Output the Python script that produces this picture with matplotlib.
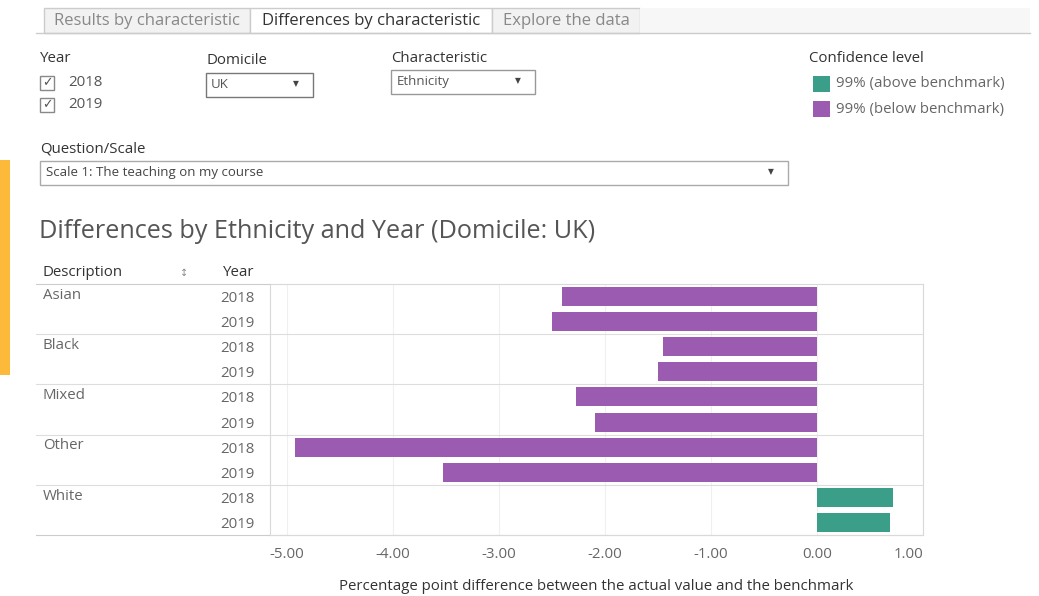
import matplotlib.pyplot as plt
import matplotlib.patches as mpatches
from matplotlib.transforms import blended_transform_factory

plt.rcParams['font.family'] = ['Open Sans', 'DejaVu Sans']

# data
groups = ['Asian', 'Black', 'Mixed', 'Other', 'White']
years = ['2018', '2019']
diff = [-2.41, -2.50,
        -1.45, -1.50,
        -2.27, -2.09,
        -4.92, -3.53,
        0.72, 0.69]
above = [False, False, False, False, False, False, False, False, True, True]
ticks = [-5, -4, -3, -2, -1, 0, 1]

purple = '#9b5bb0'
teal = '#3a9e89'
grey_txt = '#666666'
dark_txt = '#333333'
fs = 10.8

W, H = 1039, 596
fig = plt.figure(figsize=(W / 100, H / 100), dpi=100)


def fx(x):
    return x / W


def fy(y):
    return 1 - y / H


def box(x0, y0, x1, y1, fc='white', ec='#999999', lw=1):
    r = mpatches.Rectangle((fx(x0), fy(y1)), fx(x1) - fx(x0), fy(y0) - fy(y1),
                           transform=fig.transFigure, fc=fc, ec=ec, lw=lw)
    fig.patches.append(r)


# orange strip on the left
box(0, 160, 10, 375, fc='#fdb93a', ec='none')

# tabs
fig.lines.append(plt.Line2D([fx(36), fx(1030)], [fy(33), fy(33)],
                            transform=fig.transFigure, color='#cccccc', lw=1))
box(44, 8, 250, 33, fc='#f2f2f2', ec='#cccccc')
box(250, 8, 492, 33, fc='white', ec='#cccccc')
box(492, 8, 640, 33, fc='#f2f2f2', ec='#cccccc')
box(640, 8, 1030, 33, fc='#f7f7f7', ec='none')
fig.text(fx(147), fy(21), 'Results by characteristic', ha='center', va='center',
         fontsize=12, color='#888888')
fig.text(fx(371), fy(21), 'Differences by characteristic', ha='center', va='center',
         fontsize=12, color=dark_txt)
fig.text(fx(566), fy(21), 'Explore the data', ha='center', va='center',
         fontsize=12, color='#888888')

# filters
fig.text(fx(40), fy(59), 'Year', ha='left', va='center', fontsize=fs, color=dark_txt)
for i, yr in enumerate(years):
    yc = 83 + i * 22
    box(40, yc - 7, 54, yc + 7, ec='#888888')
    fig.text(fx(47), fy(yc), '\u2713', ha='center', va='center', fontsize=9,
             color='#555555', family='DejaVu Sans')
    fig.text(fx(68), fy(yc), yr, ha='left', va='center', fontsize=fs, color='#555555')

fig.text(fx(206), fy(61), 'Domicile', ha='left', va='center', fontsize=fs, color=dark_txt)
box(206, 73, 313, 97, ec='#777777')
fig.text(fx(211), fy(85), 'UK', ha='left', va='center', fontsize=9.5, color='#555555')
fig.text(fx(296), fy(84), '\u25bc', ha='center', va='center', fontsize=5.5,
         color='#444444', family='DejaVu Sans')

fig.text(fx(391), fy(58), 'Characteristic', ha='left', va='center', fontsize=fs, color=dark_txt)
box(391, 70, 535, 94, ec='#999999')
fig.text(fx(397), fy(82), 'Ethnicity', ha='left', va='center', fontsize=9.5, color='#555555')
fig.text(fx(518), fy(81), '\u25bc', ha='center', va='center', fontsize=5.5,
         color='#444444', family='DejaVu Sans')

fig.text(fx(40), fy(149), 'Question/Scale', ha='left', va='center', fontsize=fs, color=dark_txt)
box(40, 161, 788, 185, ec='#aaaaaa')
fig.text(fx(46), fy(173), 'Scale 1: The teaching on my course', ha='left', va='center',
         fontsize=9.5, color='#444444')
fig.text(fx(771), fy(172), '\u25bc', ha='center', va='center', fontsize=5.5,
         color='#444444', family='DejaVu Sans')

# legend
fig.text(fx(809), fy(59), 'Confidence level', ha='left', va='center', fontsize=fs,
         color=dark_txt)
for i, (lab, c) in enumerate([('99% (above benchmark)', teal),
                              ('99% (below benchmark)', purple)]):
    yc = 84 + i * 25
    box(813, yc - 8, 830, yc + 8, fc=c, ec='none')
    fig.text(fx(836), fy(yc), lab, ha='left', va='center', fontsize=fs, color='#666666')

# title
fig.text(fx(39), fy(232), 'Differences by Ethnicity and Year (Domicile: UK)', ha='left',
         va='center', fontsize=18.2, color='#555555')

# main chart
L, R, T, B = 270, 923, 284, 535
ax = fig.add_axes([fx(L), fy(B), fx(R) - fx(L), fy(T) - fy(B)])
n = len(diff)
ypos = list(range(n))
colors = [teal if a else purple for a in above]
ax.barh(ypos, diff, height=0.76, color=colors, zorder=3)
ax.set_ylim(n - 0.5, -0.5)
ax.set_xlim(-5.16, 1.0)
ax.set_xticks(ticks)
ax.set_xticklabels(['%.2f' % t for t in ticks], fontsize=fs, color='#666666')
lbls = ax.get_xticklabels()
lbls[-1].set_ha('right')
ax.tick_params(axis='x', length=0, pad=9)
ax.grid(axis='x', color='#f0f0f0', lw=0.8, zorder=0)
ax.set_yticks(ypos)
ax.set_yticklabels(years * len(groups), fontsize=fs, color='#666666')
ax.tick_params(axis='y', length=0, pad=11)
for s in ax.spines.values():
    s.set_color('#d9d9d9')
    s.set_linewidth(0.8)
ax.set_xlabel('Percentage point difference between the actual value and the benchmark',
              fontsize=fs, color='#333333', labelpad=12)

trans = blended_transform_factory(fig.transFigure, ax.transData)
for g, name in enumerate(groups):
    ax.text(fx(43), 2 * g - 0.05, name, transform=trans, ha='left', va='center',
            fontsize=fs, color='#666666')
    if g > 0:
        ax.plot([fx(36), fx(R)], [2 * g - 0.5, 2 * g - 0.5], transform=trans,
                color='#dddddd', lw=0.8, clip_on=False, zorder=4)
ax.plot([fx(36), fx(R)], [n - 0.5, n - 0.5], transform=trans,
        color='#cccccc', lw=0.8, clip_on=False)
ax.plot([fx(36), fx(L)], [-0.5, -0.5], transform=trans,
        color='#cccccc', lw=0.8, clip_on=False)

# table header
fig.text(fx(43), fy(273), 'Description', ha='left', va='center', fontsize=fs, color=dark_txt)
fig.text(fx(184), fy(273), '\u2195', ha='center', va='center', fontsize=7,
         color='#888888', family='DejaVu Sans')
fig.text(fx(223), fy(273), 'Year', ha='left', va='center', fontsize=fs, color=dark_txt)

fig.savefig('out.png', dpi=100)
